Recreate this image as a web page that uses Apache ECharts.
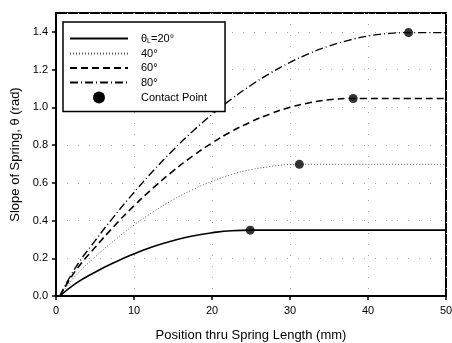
<!DOCTYPE html>
<html>
<head>
<meta charset="utf-8">
<script src="https://cdn.jsdelivr.net/npm/echarts@6/dist/echarts.min.js"></script>
<style>
  html, body { margin: 0; padding: 0; background: #fff; }
  #chart { width: 452px; height: 343px; }
</style>
</head>
<body>
<div id="chart"></div>
<script>
// values: [position (mm), slope (rad)]
const slope20 = [[0.5, 0], [2.5, 0.066], [5, 0.126], [7.5, 0.178], [10, 0.223], [12.5, 0.262], [15, 0.293],
  [17.5, 0.318], [20, 0.335], [22.5, 0.346], [25, 0.349], [50, 0.349]]
const slope40 = [[0.5, 0], [2.5, 0.107], [5, 0.206], [7.5, 0.295], [10, 0.376], [12.5, 0.447], [15, 0.510],
  [17.5, 0.563], [20, 0.608], [22.5, 0.644], [25, 0.670], [27.5, 0.686], [30, 0.697], [31.2, 0.698], [50, 0.698]]
const slope60 = [[0.5, 0], [2.5, 0.133], [5, 0.257], [7.5, 0.372], [10, 0.478], [12.5, 0.574], [15, 0.662],
  [17.5, 0.741], [20, 0.811], [22.5, 0.872], [25, 0.923], [27.5, 0.966], [30, 1.000], [32.5, 1.024],
  [35, 1.040], [38.1, 1.047], [50, 1.047]]
const slope80 = [[0.5, 0], [2.5, 0.150], [5, 0.292], [7.5, 0.425], [10, 0.549], [12.5, 0.665], [15, 0.773],
  [17.5, 0.872], [20, 0.962], [22.5, 1.044], [25, 1.117], [27.5, 1.182], [30, 1.238], [32.5, 1.286],
  [35, 1.325], [37.5, 1.355], [40, 1.378], [42.5, 1.391], [45.2, 1.396], [50, 1.396]]
const contactPoints = [[24.9, 0.349], [31.2, 0.698], [38.1, 1.047], [45.2, 1.396]]
const seriesNames = ['20', '40', '60', '80', 'Contact Point']

const chart = echarts.init(document.getElementById('chart'))
const font = 'Liberation Sans, Arial, sans-serif'

const lineSeries = (name, data, type, width, color) => ({
  name: name,
  type: 'line',
  data: data,
  smooth: true,
  symbol: 'none',
  lineStyle: {color: color, width: width, type: type},
  itemStyle: {color: color},
  z: 3
})

const option = {
  animation: false,
  backgroundColor: '#fff',
  textStyle: {fontFamily: font},
  grid: {left: 56, right: 6, top: 13, bottom: 47, show: true, borderColor: '#000', borderWidth: 2,
    containLabel: false, outerBoundsMode: 'none'},
  legend: {
    orient: 'vertical',
    left: 63,
    top: 22,
    padding: [11, 18, 8, 6],
    itemGap: 3.5,
    itemWidth: 58,
    itemHeight: 12,
    backgroundColor: '#fff',
    borderColor: '#000',
    borderWidth: 1.5,
    data: seriesNames.map(n => n === 'Contact Point'
      ? {name: n, itemStyle: {opacity: 1}}
      : {name: n, itemStyle: {opacity: 0}}),
    textStyle: {
      color: '#000', fontSize: 11, fontFamily: font, padding: [0, 0, 0, 8],
      rich: {
        a: {fontSize: 11, fontFamily: font, color: '#000'},
        sub: {fontSize: 7, fontFamily: font, color: '#000', verticalAlign: 'bottom', padding: [5, 0, 0, 0]}
      }
    },
    formatter: function (n) {
      if (n === '20') return '{a|θ}{sub|L}{a|=20°}'
      if (n === 'Contact Point') return n
      return n + '°'
    }
  },
  xAxis: {
    type: 'value',
    min: 0, max: 50, interval: 10,
    name: 'Position thru Spring Length (mm)',
    nameLocation: 'middle',
    nameGap: 33,
    nameTextStyle: {fontSize: 13, color: '#000', fontFamily: font},
    axisLine: {show: true, lineStyle: {color: '#000', width: 2}},
    axisTick: {show: true, length: 4, lineStyle: {color: '#000', width: 1.5}},
    axisLabel: {color: '#000', fontSize: 11, margin: 9},
    splitLine: {show: true, lineStyle: {color: '#aaa', width: 1, type: [1, 10]}}
  },
  yAxis: {
    type: 'value',
    min: 0, max: 1.5, interval: 0.2,
    name: 'Slope of Spring, θ (rad)',
    nameLocation: 'middle',
    nameGap: 34,
    nameTextStyle: {fontSize: 13, color: '#000', fontFamily: font},
    axisLine: {show: true, lineStyle: {color: '#000', width: 2}},
    axisTick: {show: true, length: 4, lineStyle: {color: '#000', width: 1.5}},
    axisLabel: {color: '#000', fontSize: 11, margin: 8, showMaxLabel: false,
      formatter: v => v.toFixed(1)},
    splitLine: {show: true, lineStyle: {color: '#aaa', width: 1, type: [1, 10]}}
  },
  series: [
    lineSeries('20', slope20, 'solid', 1.6, '#000'),
    lineSeries('40', slope40, [1, 2], 1, '#555'),
    lineSeries('60', slope60, [7, 4], 1.6, '#000'),
    lineSeries('80', slope80, [8, 3, 1, 3], 1.4, '#000'),
    {
      name: 'Contact Point',
      type: 'scatter',
      data: contactPoints,
      symbol: 'circle',
      symbolSize: 9,
      itemStyle: {color: '#000'},
      z: 5
    }
  ]
}
chart.setOption(option)
</script>
</body>
</html>
